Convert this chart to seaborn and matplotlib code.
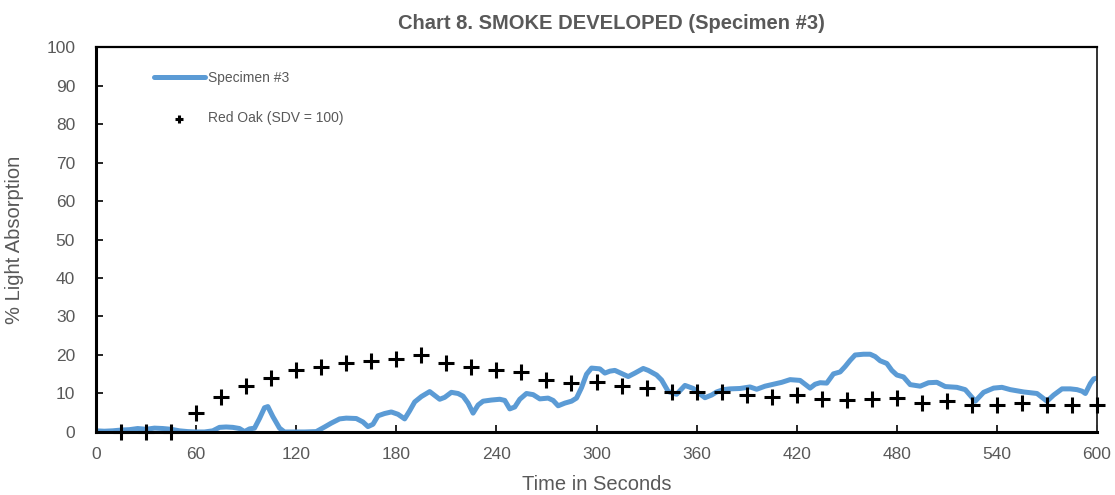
import matplotlib
matplotlib.use("Agg")
import matplotlib.pyplot as plt
import seaborn as sns
import pandas as pd

# Specimen #3 smoke trace (% light absorption vs. time in seconds)
spec_time = [0, 5, 10, 15, 20, 25, 30, 35, 40, 45, 50, 55, 60, 65, 70, 74, 78, 82, 86, 89,
             92, 95, 98, 101, 103, 106, 110, 113, 120, 125, 132, 137, 141, 146, 150, 156,
             160, 163, 166, 169, 173, 177, 181, 185, 188, 191, 195, 200, 203, 206, 209, 213,
             217, 220, 223, 226, 229, 232, 237, 242, 245, 248, 251, 254, 258, 262, 266, 271,
             274, 277, 281, 285, 288, 291, 294, 297, 302, 305, 308, 311, 315, 319, 323, 328,
             331, 336, 339, 343, 348, 353, 358, 361, 365, 369, 372, 376, 380, 386, 392, 396,
             401, 406, 411, 416, 422, 425, 428, 431, 434, 438, 442, 446, 449, 452, 455, 460,
             464, 467, 470, 474, 477, 480, 484, 488, 494, 499, 504, 509, 516, 521, 524, 527,
             532, 538, 543, 548, 556, 564, 567, 570, 574, 579, 584, 588, 591, 593, 596, 598, 600]
spec_value = [0.3, 0.2, 0.3, 0.5, 0.6, 0.9, 0.7, 1.0, 0.9, 0.7, 0.3, 0.1, 0.0, 0.0, 0.3, 1.2,
              1.3, 1.2, 0.9, 0.1, 0.8, 1.0, 3.5, 6.3, 6.6, 4.0, 1.0, 0.0, 0.0, 0.0, 0.1, 1.3,
              2.3, 3.4, 3.6, 3.5, 2.6, 1.4, 2.0, 4.2, 4.8, 5.2, 4.6, 3.4, 5.5, 7.8, 9.2, 10.5,
              9.5, 8.5, 9.0, 10.3, 10.0, 9.3, 7.5, 4.9, 7.0, 8.0, 8.3, 8.5, 8.2, 6.0, 6.5, 8.5,
              10.0, 9.7, 8.6, 8.8, 8.2, 6.8, 7.5, 8.0, 8.8, 11.5, 15.0, 16.6, 16.4, 15.3, 15.8,
              16.0, 15.2, 14.4, 15.3, 16.5, 16.0, 14.8, 13.5, 10.5, 9.8, 12.1, 11.3, 10.2, 8.9,
              9.6, 10.4, 11.0, 11.2, 11.3, 11.7, 11.1, 11.9, 12.4, 12.9, 13.6, 13.4, 12.4, 11.4,
              12.4, 12.8, 12.7, 15.1, 15.6, 17.0, 18.6, 20.0, 20.2, 20.2, 19.6, 18.5, 17.8,
              16.0, 14.8, 14.3, 12.3, 11.9, 12.8, 12.9, 11.8, 11.6, 11.0, 9.5, 8.0, 10.3, 11.4,
              11.6, 11.0, 10.4, 10.0, 9.0, 8.0, 9.6, 11.2, 11.2, 11.0, 10.6, 10.0, 12.6, 13.8,
              14.0]

# Red Oak reference curve (SDV = 100), sampled every 15 s
oak_time = list(range(15, 601, 15))
oak_value = [0, 0, 0, 5, 9, 12, 14, 16, 17, 18, 18.5, 19, 20, 18, 17, 16, 15.5, 13.5, 12.8, 13,
             12, 11.5, 10.5, 10.5, 10.5, 9.5, 9, 9.5, 8.5, 8.3, 8.5, 8.8, 7.5, 8, 7, 7, 7.5, 7,
             7, 7]

x_ticks = list(range(0, 601, 60))
y_ticks = list(range(0, 101, 10))

title = "Chart 8. SMOKE DEVELOPED (Specimen #3)"
spec_label = "Specimen #3"
oak_label = "Red Oak (SDV = 100)"

spec_df = pd.DataFrame({"t": spec_time, "v": spec_value})
oak_df = pd.DataFrame({"t": oak_time, "v": oak_value})

sns.set_theme(style="white")
plt.rcParams["font.family"] = ["Liberation Sans", "DejaVu Sans"]

grey = "#595959"
fig = plt.figure(figsize=(11.15, 4.95), dpi=100)
ax = fig.add_axes([0.0861, 0.1273, 0.8978, 0.7777])

sns.lineplot(data=spec_df, x="t", y="v", ax=ax, color="#5B9BD5", linewidth=3.6,
             label=spec_label, solid_joinstyle="round", solid_capstyle="round")
sns.scatterplot(data=oak_df, x="t", y="v", ax=ax, marker="+", color="black",
                s=140, linewidth=2.2, label=oak_label, zorder=3, clip_on=False)

ax.set_xlim(0, 600)
ax.set_ylim(0, 100)
ax.set_xticks(x_ticks)
ax.set_yticks(y_ticks)
ax.tick_params(axis="both", direction="in", length=5, width=1.2, colors="black",
               labelcolor=grey, labelsize=12.5)
ax.tick_params(axis="y", pad=15)
ax.tick_params(axis="x", pad=11)
ax.tick_params(top=False, right=False, bottom=True, left=True)

for side, lw in {"left": 2.2, "bottom": 2.2, "top": 1.6, "right": 1.4}.items():
    ax.spines[side].set_visible(True)
    ax.spines[side].set_color("black" if side != "right" else "#333333")
    ax.spines[side].set_linewidth(lw)

ax.set_xlabel("Time in Seconds", fontsize=14.5, color=grey, labelpad=9)
ax.set_ylabel("% Light Absorption", fontsize=14.5, color=grey, labelpad=16)
fig.suptitle(title, x=0.548, y=0.972, fontsize=14.5, fontweight="bold", color=grey)

handles, labels = ax.get_legend_handles_labels()
leg = ax.legend(handles, labels, loc="upper left", bbox_to_anchor=(0.045, 0.97),
                frameon=False, fontsize=10, labelcolor=grey, handlelength=3.7,
                handletextpad=0.2, labelspacing=1.9, markerscale=0.5)

fig.savefig("out.png", dpi=100)
